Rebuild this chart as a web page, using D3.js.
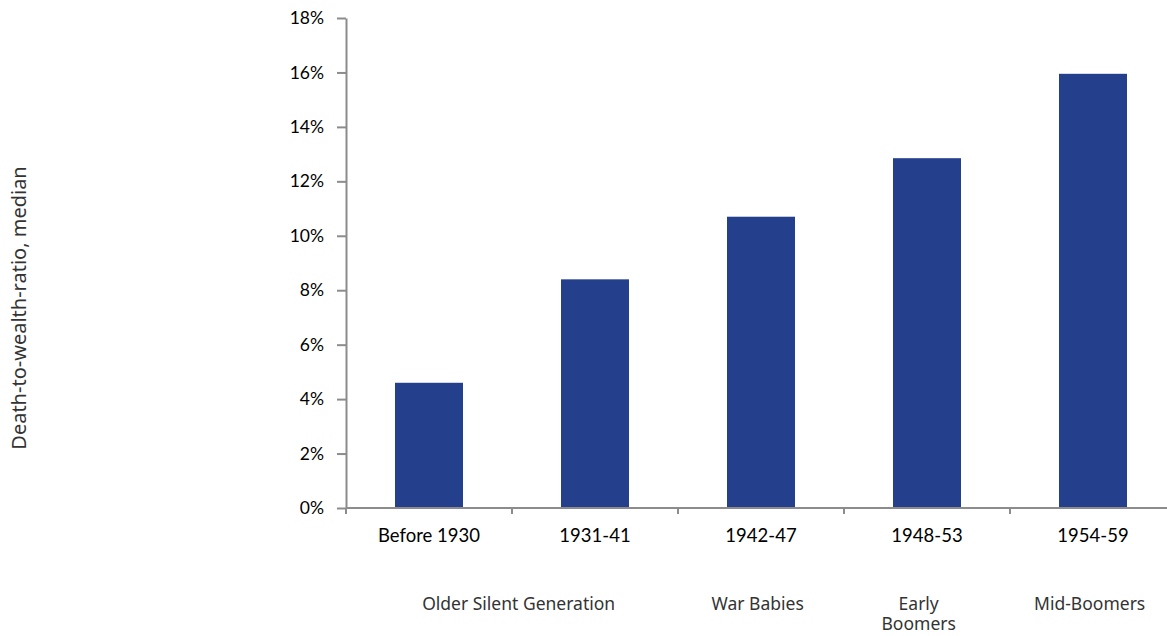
<!DOCTYPE html>
<html>
<head>
<meta charset="utf-8">
<script src="https://cdn.jsdelivr.net/npm/d3@7"></script>
<style>
  body { margin: 0; background: #fff; }
  svg { display: block; }
</style>
</head>
<body>
<svg id="container"></svg>
<script>
// cohort data
const cohorts = ["Before 1930", "1931-41", "1942-47", "1948-53", "1954-59"];
const ratios = [0.046, 0.084, 0.107, 0.1285, 0.1595];
const yTicks = [0, 0.02, 0.04, 0.06, 0.08, 0.10, 0.12, 0.14, 0.16, 0.18];
// generation names, each anchored to a position along the cohort axis
const generations = [["Older Silent Generation"], ["War Babies"], ["Early", "Boomers"], ["Mid-Boomers"]];
const generationAt = [1.04, 2.48, 3.45, 4.48];

let width = 1167, height = 636;
var margin = {top: 18, left: 346, bottom: 128};

let svg = d3.select("#container")
    .attr("width", width)
    .attr("height", height);

const xScale = d3.scaleBand()
    .domain(cohorts)
    .range([margin.left, margin.left + 5 * 166]);

const yScale = d3.scaleLinear()
    .domain([0, 0.18])
    .range([height - margin.bottom, margin.top]);

const barWidth = 68;
const axisColor = "#8c8c8c";

// bars
svg.append("g")
    .selectAll("rect")
    .data(ratios)
    .enter()
    .append("rect")
        .attr("x", (d, i) => xScale(cohorts[i]) + xScale.bandwidth() / 2 - barWidth / 2)
        .attr("y", d => yScale(d))
        .attr("width", barWidth)
        .attr("height", d => yScale(0) - yScale(d))
        .style("fill", "#243f8c");

// y axis
let yAxis = svg.append("g")
    .attr("transform", "translate(" + margin.left + ",0)")
    .call(d3.axisLeft(yScale).tickValues(yTicks).tickFormat(d3.format(".0%"))
        .tickSize(9).tickSizeOuter(0).tickPadding(13));
yAxis.select(".domain").attr("stroke", axisColor).attr("stroke-width", 2);
yAxis.selectAll(".tick line").attr("stroke", axisColor).attr("stroke-width", 2);
yAxis.selectAll("text")
    .style("font-family", "Lato, 'Noto Sans', sans-serif")
    .style("font-size", "17.5px")
    .attr("fill", "#000");

// x axis: tick marks at band boundaries
let xAxis = svg.append("g")
    .attr("transform", "translate(0," + yScale(0) + ")");
xAxis.append("line")
    .attr("x1", margin.left).attr("x2", width)
    .attr("stroke", axisColor).attr("stroke-width", 2);
xAxis.selectAll("line.tk")
    .data(cohorts)
    .enter()
    .append("line")
        .attr("class", "tk")
        .attr("x1", d => xScale(d)).attr("x2", d => xScale(d))
        .attr("y1", 0).attr("y2", 6)
        .attr("stroke", axisColor).attr("stroke-width", 2);
xAxis.selectAll("text")
    .data(cohorts)
    .enter()
    .append("text")
        .attr("x", d => xScale(d) + xScale.bandwidth() / 2)
        .attr("y", 34)
        .attr("text-anchor", "middle")
        .style("font-family", "Lato, 'Noto Sans', sans-serif")
        .style("font-size", "18.5px")
        .text(d => d);

// generation labels under the axis
const genPos = d3.scaleLinear().domain([0, 5]).range(xScale.range());
svg.append("g")
    .selectAll("text")
    .data(generations)
    .enter()
    .append("text")
        .attr("x", (d, i) => genPos(generationAt[i]))
        .attr("y", 610)
        .attr("text-anchor", "middle")
        .style("font-family", "'Noto Sans', sans-serif")
        .style("font-size", "17.5px")
        .attr("fill", "#333")
        .each(function(d) {
            d3.select(this).selectAll("tspan")
                .data(d)
                .enter()
                .append("tspan")
                    .attr("x", d3.select(this).attr("x"))
                    .attr("dy", (t, j) => j === 0 ? 0 : 20)
                    .text(t => t);
        });

// y axis title
svg.append("text")
    .attr("transform", "translate(26,308) rotate(-90)")
    .attr("text-anchor", "middle")
    .style("font-family", "'Noto Sans', sans-serif")
    .style("font-size", "20px")
    .attr("fill", "#333")
    .text("Death-to-wealth-ratio, median");
</script>
</body>
</html>
